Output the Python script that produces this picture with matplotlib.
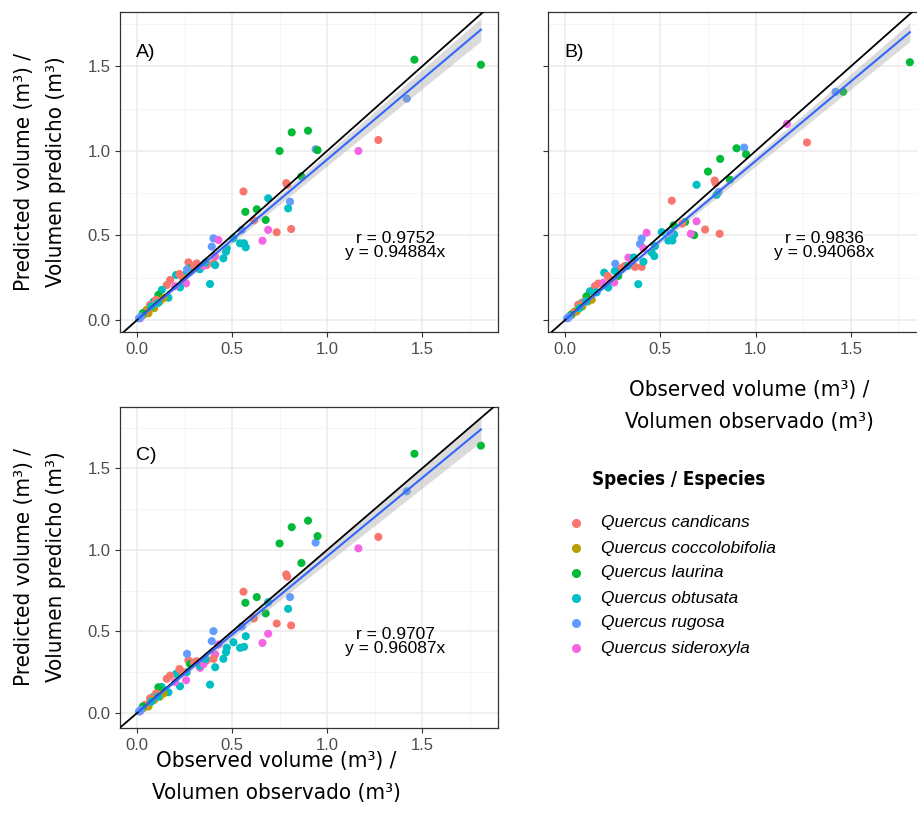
import numpy as np
import matplotlib
matplotlib.use('Agg')
import matplotlib.pyplot as plt
from matplotlib import font_manager
from matplotlib.font_manager import FontProperties
from matplotlib.lines import Line2D

# species names and ggplot default hue colours
species_names = ['Quercus candicans', 'Quercus coccolobifolia', 'Quercus laurina',
                 'Quercus obtusata', 'Quercus rugosa', 'Quercus sideroxyla']
species_colors = ['#F8766D', '#B79F00', '#00BA38', '#00BFC4', '#619CFF', '#F564E3']

# species index of every tree (same trees in all three panels)
sp = [2, 2, 4, 0, 5, 2, 2, 2, 4, 2,
      2, 0, 0, 0, 3, 4, 3, 2, 2, 0,
      2, 5, 0, 0, 5, 3, 3, 3, 4, 3,
      4, 5, 4, 3, 3, 5, 3, 0, 3, 3,
      0, 0, 0, 5, 2, 3, 3, 0, 5, 3,
      0, 0, 3, 4, 3, 2, 3, 0, 1, 1,
      5, 1, 1, 1, 0, 0, 2, 3, 4, 5,
      1, 3, 0, 3, 0, 5, 3, 4]

# observed volume (m3)
obs = [1.81, 1.46, 1.42, 1.27, 1.165, 0.90, 0.814, 0.75, 0.94, 0.95,
       0.865, 0.785, 0.79, 0.56, 0.69, 0.805, 0.795, 0.57, 0.63, 0.615,
       0.677, 0.69, 0.735, 0.811, 0.66, 0.563, 0.542, 0.572, 0.551, 0.507,
       0.402, 0.428, 0.393, 0.472, 0.468, 0.411, 0.454, 0.402, 0.411, 0.384,
       0.27, 0.314, 0.367, 0.332, 0.279, 0.261, 0.205, 0.223, 0.258, 0.226,
       0.174, 0.156, 0.165, 0.263, 0.13, 0.112, 0.086, 0.068, 0.05, 0.033,
       0.016, 0.09, 0.12, 0.06, 0.10, 0.04, 0.03, 0.075, 0.02, 0.20,
       0.14, 0.11, 0.30, 0.33, 0.24, 0.35, 0.36, 0.01]

# predicted volume, model A
pred_a = [1.51, 1.54, 1.31, 1.065, 1.00, 1.12, 1.11, 1.00, 1.01, 1.005,
          0.85, 0.81, 0.80, 0.76, 0.72, 0.70, 0.66, 0.64, 0.655, 0.59,
          0.592, 0.533, 0.519, 0.538, 0.469, 0.454, 0.454, 0.43, 0.533, 0.483,
          0.483, 0.473, 0.434, 0.424, 0.404, 0.375, 0.365, 0.335, 0.325, 0.213,
          0.341, 0.335, 0.325, 0.316, 0.306, 0.276, 0.266, 0.272, 0.217, 0.193,
          0.237, 0.207, 0.132, 0.30, 0.178, 0.148, 0.108, 0.089, 0.06, 0.03,
          0.01, 0.07, 0.11, 0.04, 0.12, 0.045, 0.04, 0.08, 0.02, 0.20,
          0.13, 0.10, 0.32, 0.30, 0.25, 0.32, 0.34, 0.01]

# predicted volume, model B
pred_b = [1.525, 1.35, 1.35, 1.05, 1.16, 1.016, 0.953, 0.878, 1.02, 0.98,
          0.83, 0.825, 0.81, 0.706, 0.80, 0.757, 0.74, 0.56, 0.58, 0.57,
          0.502, 0.584, 0.535, 0.51, 0.51, 0.47, 0.47, 0.506, 0.516, 0.52,
          0.482, 0.516, 0.45, 0.437, 0.378, 0.424, 0.40, 0.314, 0.345, 0.212,
          0.30, 0.32, 0.314, 0.369, 0.261, 0.29, 0.28, 0.261, 0.222, 0.192,
          0.216, 0.20, 0.163, 0.333, 0.17, 0.14, 0.10, 0.09, 0.05, 0.03,
          0.012, 0.08, 0.11, 0.05, 0.11, 0.04, 0.03, 0.07, 0.02, 0.22,
          0.12, 0.11, 0.31, 0.32, 0.24, 0.35, 0.37, 0.01]

# predicted volume, model C
pred_c = [1.64, 1.59, 1.36, 1.08, 1.01, 1.18, 1.14, 1.04, 1.045, 1.085,
          0.92, 0.85, 0.836, 0.744, 0.68, 0.711, 0.639, 0.676, 0.711, 0.58,
          0.611, 0.486, 0.549, 0.537, 0.43, 0.406, 0.40, 0.471, 0.53, 0.434,
          0.502, 0.42, 0.441, 0.40, 0.373, 0.36, 0.332, 0.332, 0.281, 0.174,
          0.324, 0.318, 0.324, 0.277, 0.30, 0.25, 0.24, 0.27, 0.201, 0.164,
          0.23, 0.21, 0.127, 0.363, 0.16, 0.158, 0.10, 0.09, 0.05, 0.03,
          0.01, 0.08, 0.10, 0.04, 0.12, 0.05, 0.04, 0.07, 0.02, 0.19,
          0.12, 0.10, 0.31, 0.29, 0.25, 0.30, 0.33, 0.01]

panel_tags = ['A)', 'B)', 'C)']
r_values = ['0.9752', '0.9836', '0.9707']
slopes = [0.94884, 0.94068, 0.96087]
x_ticks = [0.0, 0.5, 1.0, 1.5]

plt.rcParams['font.family'] = ['Liberation Sans', 'DejaVu Sans']

# look for a condensed face for the axis titles
narrow_names = ['Liberation Sans Narrow', 'Roboto Condensed', 'Open Sans Condensed',
                'DejaVu Sans Condensed', 'Noto Sans Condensed', 'Arial Narrow']
reg_file, bold_file = None, None
for f in font_manager.fontManager.ttflist:
    is_narrow = f.name in narrow_names or 'Condensed' in f.name or 'Narrow' in f.name \
        or (f.stretch in ('condensed', 'semi-condensed', 'extra-condensed', 500 - 100)
            and f.name in ('Roboto', 'Open Sans', 'Noto Sans', 'DejaVu Sans'))
    if not is_narrow or f.style != 'normal':
        continue
    w = f.weight if isinstance(f.weight, int) else {'normal': 400, 'regular': 400, 'bold': 700}.get(f.weight, 400)
    if w == 400 and reg_file is None:
        reg_file = f.fname
    if w == 700 and bold_file is None:
        bold_file = f.fname

if reg_file:
    title_fp = FontProperties(fname=reg_file, size=16)
else:
    title_fp = FontProperties(family='Roboto', size=15)
if bold_file:
    leg_fp = FontProperties(fname=bold_file, size=13.5)
else:
    leg_fp = FontProperties(family='Roboto', weight='bold', size=13)

W, H = 917, 824
fig = plt.figure(figsize=(W / 100, H / 100), dpi=100)


def add_ax(l, t, r, b):
    return fig.add_axes([l / W, 1 - b / H, (r - l) / W, (b - t) / H])


axA = add_ax(120, 12, 498, 332)
axB = add_ax(548, 12, 927, 332)
axC = add_ax(120, 407, 498, 728)

x = np.array(obs)
cols = [species_colors[i] for i in sp]

for ax, y, tag, r, b in zip([axA, axB, axC], [pred_a, pred_b, pred_c], panel_tags, r_values, slopes):
    y = np.array(y)
    ax.set_axisbelow(True)
    ax.set_xlim(-0.09, 1.90)
    if ax is axC:
        ax.set_ylim(-0.092, 1.877)
    else:
        ax.set_ylim(-0.071, 1.822)
    ax.set_xticks(x_ticks)
    ax.set_yticks(x_ticks)
    ax.set_xticks([0.25, 0.75, 1.25, 1.75], minor=True)
    ax.set_yticks([0.25, 0.75, 1.25, 1.75], minor=True)
    ax.xaxis.set_major_formatter(matplotlib.ticker.FormatStrFormatter('%.1f'))
    ax.yaxis.set_major_formatter(matplotlib.ticker.FormatStrFormatter('%.1f'))
    ax.grid(which='major', color='#EBEBEB', lw=1.1)
    ax.grid(which='minor', color='#F2F2F2', lw=0.6)
    ax.tick_params(which='major', direction='out', length=3.5, width=0.8,
                   color='#333333', labelcolor='#4D4D4D', labelsize=12)
    ax.tick_params(which='minor', length=0)
    for s in ax.spines.values():
        s.set_color('#333333')
        s.set_linewidth(0.9)

    ax.scatter(x, y, c=cols, s=34, linewidths=0, zorder=3)

    # 1:1 line
    ax.axline((0, 0), slope=1, color='black', lw=1.3, zorder=5)

    # fit through origin with 95% band
    xs = np.linspace(x.min(), x.max(), 100)
    res = y - b * x
    se = np.sqrt(np.sum(res ** 2) / (len(x) - 1) / np.sum(x ** 2))
    band = 1.99 * se * xs
    ax.fill_between(xs, b * xs - band, b * xs + band, color='#999999', alpha=0.35, lw=0, zorder=4)
    ax.plot(xs, b * xs, color='#3366FF', lw=1.5, zorder=6)

    ax.text(-0.005, 1.58, tag, fontsize=14, ha='left', va='center')
    ax.text(1.36, 0.44, 'r = ' + r + '\ny = ' + str(b) + 'x', fontsize=12.5,
            ha='center', va='center', linespacing=0.9, zorder=7)

axB.tick_params(labelleft=False)

ylab = 'Predicted volume (m\u00b3) /\nVolumen predicho (m\u00b3)'
xlab = 'Observed volume (m\u00b3) /\nVolumen observado (m\u00b3)'
fig.text(40 / W, 1 - 172 / H, ylab, rotation=90, ha='center', va='center',
         fontproperties=title_fp, linespacing=1.75)
fig.text(40 / W, 1 - 567 / H, ylab, rotation=90, ha='center', va='center',
         fontproperties=title_fp, linespacing=1.75)
fig.text(749 / W, 1 - 406 / H, xlab, ha='center', va='center',
         fontproperties=title_fp, linespacing=1.75)
fig.text(276 / W, 1 - 777 / H, xlab, ha='center', va='center',
         fontproperties=title_fp, linespacing=1.75)

# legend
fig.text(592 / W, 1 - 480 / H, 'Species / Especies', ha='left', va='center',
         fontproperties=leg_fp)
for i, (name, col) in enumerate(zip(species_names, species_colors)):
    yy = 1 - (523 + 25 * i) / H
    fig.add_artist(Line2D([576 / W], [yy], marker='o', ms=5.5, color=col, lw=0,
                          transform=fig.transFigure))
    fig.text(601 / W, yy, name, ha='left', va='center', fontsize=12.5, style='italic')

fig.savefig('out.png', dpi=100)
